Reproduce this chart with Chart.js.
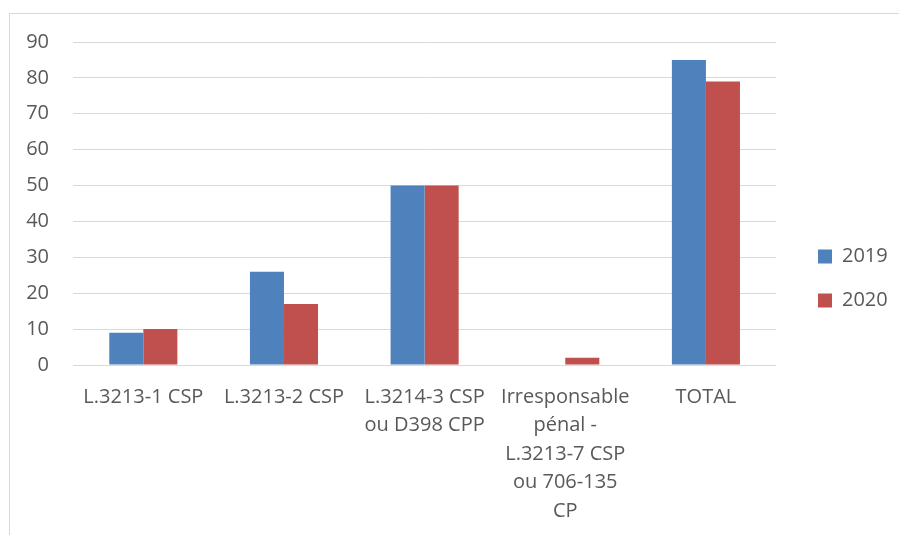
<!DOCTYPE html>
<html>
<head>
<meta charset="utf-8">
<script src="https://cdn.jsdelivr.net/npm/chart.js@4"></script>
<style>
  html, body { margin: 0; padding: 0; background: #fff; }
  #wrap { position: relative; width: 899px; height: 535px; overflow: hidden; }
  #frame { position: absolute; left: 9px; top: 13px; width: 1000px; height: 1000px; border: 1px solid #d9d9d9; box-sizing: border-box; }
  #c { position: absolute; left: 0; top: 0; }
</style>
</head>
<body>
<div id="wrap">
  <div id="frame"></div>
  <canvas id="c" width="899" height="535"></canvas>
</div>
<script>
// Categories (multi-line labels as arrays)
const categories = [
  'L.3213-1 CSP',
  'L.3213-2 CSP',
  ['L.3214-3 CSP', 'ou D398 CPP'],
  ['Irresponsable', 'pénal -', 'L.3213-7 CSP', 'ou 706-135', 'CP'],
  'TOTAL'
];
const seriesNames = ['2019', '2020'];
const values2019 = [9, 26, 50, 0, 85];
const values2020 = [10, 17, 50, 2, 79];
const yTicks = { min: 0, max: 90, step: 10 };

const textColor = '#595959';
const font = 'Open Sans';

// Moves the legend block to sit to the right of the plot area
const legendPlacement = {
  id: 'legendPlacement',
  afterLayout(chart) {
    const lg = chart.legend;
    const dx = 794 - lg.left;
    lg.left += dx; lg.right += dx;
    lg.top -= 10; lg.bottom -= 10;
  }
};

new Chart(document.getElementById('c'), {
  type: 'bar',
  data: {
    labels: categories,
    datasets: [
      { label: seriesNames[0], data: values2019, backgroundColor: '#4F81BD', borderWidth: 0 },
      { label: seriesNames[1], data: values2020, backgroundColor: '#C0504D', borderWidth: 0 }
    ]
  },
  options: {
    responsive: false,
    animation: false,
    devicePixelRatio: 1,
    layout: { padding: { left: 10, top: 42, right: 19, bottom: 0 } },
    datasets: { bar: { categoryPercentage: 0.484, barPercentage: 1 } },
    plugins: {
      legend: {
        position: 'right',
        labels: {
          boxWidth: 14, boxHeight: 14, padding: 24,
          color: textColor,
          font: { family: font, size: 20 }
        }
      },
      tooltip: { enabled: false }
    },
    scales: {
      x: {
        grid: { display: false },
        border: { display: false },
        ticks: {
          color: textColor,
          font: { family: font, size: 20, lineHeight: 1.42 },
          padding: 10,
          maxRotation: 0,
          autoSkip: false
        },
        afterFit(scale) { scale.height = 170; }
      },
      y: {
        min: yTicks.min, max: yTicks.max,
        grid: { color: '#d9d9d9', lineWidth: 1, drawTicks: false },
        border: { display: false },
        ticks: {
          stepSize: yTicks.step,
          color: textColor,
          font: { family: font, size: 20 },
          padding: 24
        },
        afterFit(scale) { scale.width = 63; }
      }
    }
  },
  plugins: [legendPlacement]
});
</script>
</body>
</html>
